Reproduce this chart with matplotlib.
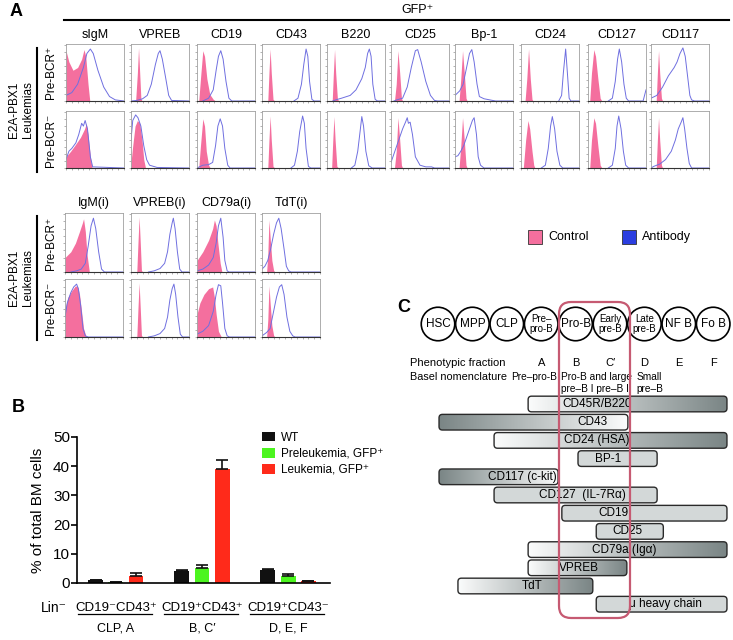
import numpy as np
import matplotlib.pyplot as plt
from matplotlib.patches import FancyBboxPatch, Ellipse, Rectangle
from matplotlib.colors import LinearSegmentedColormap
from matplotlib.ticker import MultipleLocator

plt.rcParams['font.family'] = ['Liberation Sans', 'DejaVu Sans']

# ---------------- data ----------------
markers_top = ['sIgM', 'VPREB', 'CD19', 'CD43', 'B220', 'CD25', 'Bp-1', 'CD24', 'CD127', 'CD117']
markers_bot = ['IgM(i)', 'VPREB(i)', 'CD79a(i)', 'TdT(i)']

# histogram outlines, (fluorescence fraction, relative count)
ctrl_pos = {
    'sIgM': [(0, 0.9), (0.05, 0.7), (0.12, 0.55), (0.2, 0.6), (0.27, 0.75), (0.31, 0.92), (0.34, 0.8), (0.38, 0.3), (0.41, 0)],
    'VPREB': [(0.08, 0), (0.11, 0.5), (0.13, 0.95), (0.15, 0.5), (0.17, 0.05), (0.19, 0)],
    'CD19': [(0.03, 0), (0.06, 0.4), (0.1, 0.9), (0.13, 0.8), (0.17, 0.4), (0.22, 0.12), (0.28, 0.03), (0.32, 0)],
    'CD43': [(0.1, 0), (0.12, 0.5), (0.14, 0.93), (0.16, 0.5), (0.19, 0.03), (0.22, 0)],
    'B220': [(0.09, 0), (0.11, 0.5), (0.13, 0.92), (0.15, 0.5), (0.18, 0.03), (0.21, 0)],
    'CD25': [(0.06, 0), (0.09, 0.3), (0.12, 0.9), (0.15, 0.5), (0.18, 0.05), (0.2, 0)],
    'Bp-1': [(0.07, 0), (0.1, 0.4), (0.13, 0.9), (0.16, 0.5), (0.19, 0.05), (0.21, 0)],
    'CD24': [(0.07, 0), (0.1, 0.4), (0.13, 0.93), (0.16, 0.4), (0.19, 0.03), (0.21, 0)],
    'CD127': [(0.03, 0), (0.06, 0.5), (0.1, 0.92), (0.13, 0.8), (0.17, 0.4), (0.21, 0.05), (0.24, 0)],
    'CD117': [(0.09, 0), (0.11, 0.5), (0.13, 0.9), (0.15, 0.5), (0.18, 0.05), (0.2, 0)],
    'IgM(i)': [(0, 0.25), (0.1, 0.35), (0.18, 0.5), (0.25, 0.7), (0.3, 0.85), (0.32, 0.92), (0.35, 0.7), (0.38, 0.3), (0.42, 0)],
    'VPREB(i)': [(0.1, 0), (0.12, 0.5), (0.14, 0.95), (0.16, 0.5), (0.18, 0.03), (0.2, 0)],
    'CD79a(i)': [(0, 0.2), (0.1, 0.35), (0.2, 0.55), (0.27, 0.75), (0.3, 0.9), (0.33, 0.8), (0.36, 0.5), (0.4, 0.15), (0.43, 0)],
    'TdT(i)': [(0.08, 0), (0.1, 0.3), (0.12, 0.9), (0.14, 0.6), (0.17, 0.2), (0.2, 0.03), (0.22, 0)],
}
ab_pos = {
    'sIgM': [(0, 0.1), (0.1, 0.15), (0.2, 0.3), (0.3, 0.6), (0.36, 0.85), (0.42, 0.93), (0.47, 0.85), (0.55, 0.55), (0.65, 0.25), (0.75, 0.08), (0.85, 0.02), (1, 0)],
    'VPREB': [(0, 0), (0.1, 0.01), (0.2, 0.04), (0.28, 0.1), (0.35, 0.3), (0.42, 0.65), (0.47, 0.85), (0.5, 0.9), (0.54, 0.75), (0.6, 0.4), (0.65, 0.1), (0.7, 0.01), (1, 0)],
    'CD19': [(0.1, 0), (0.2, 0.05), (0.28, 0.2), (0.33, 0.55), (0.37, 0.8), (0.41, 0.9), (0.45, 0.75), (0.5, 0.35), (0.55, 0.05), (0.6, 0), (1, 0)],
    'CD43': [(0.55, 0), (0.62, 0.05), (0.68, 0.3), (0.72, 0.65), (0.76, 0.93), (0.79, 0.8), (0.82, 0.35), (0.86, 0.03), (0.9, 0), (1, 0)],
    'B220': [(0.1, 0), (0.15, 0.02), (0.25, 0.05), (0.4, 0.1), (0.5, 0.2), (0.6, 0.4), (0.66, 0.6), (0.7, 0.85), (0.73, 0.93), (0.76, 0.8), (0.79, 0.3), (0.83, 0.03), (0.87, 0), (1, 0)],
    'CD25': [(0.05, 0), (0.1, 0.02), (0.2, 0.05), (0.28, 0.25), (0.35, 0.6), (0.42, 0.9), (0.46, 0.92), (0.52, 0.7), (0.6, 0.35), (0.68, 0.1), (0.75, 0.01), (0.8, 0), (1, 0)],
    'Bp-1': [(0, 0.1), (0.08, 0.18), (0.14, 0.3), (0.2, 0.6), (0.25, 0.85), (0.29, 0.92), (0.33, 0.7), (0.38, 0.3), (0.42, 0.08), (0.5, 0.04), (0.6, 0.02), (0.7, 0), (1, 0)],
    'CD24': [(0.65, 0), (0.7, 0.1), (0.73, 0.5), (0.77, 0.93), (0.8, 0.5), (0.83, 0.05), (0.86, 0), (1, 0)],
    'CD127': [(0.35, 0), (0.42, 0.05), (0.47, 0.35), (0.51, 0.75), (0.54, 0.93), (0.58, 0.7), (0.62, 0.3), (0.66, 0.05), (0.7, 0), (0.95, 0), (1, 0.2)],
    'CD117': [(0, 0.05), (0.1, 0.1), (0.2, 0.25), (0.3, 0.45), (0.4, 0.6), (0.45, 0.7), (0.5, 0.85), (0.55, 0.95), (0.59, 0.8), (0.63, 0.45), (0.67, 0.1), (0.7, 0.02), (0.75, 0), (1, 0)],
    'IgM(i)': [(0.1, 0), (0.2, 0.02), (0.28, 0.05), (0.35, 0.15), (0.4, 0.45), (0.45, 0.8), (0.49, 0.93), (0.53, 0.75), (0.58, 0.35), (0.63, 0.05), (0.68, 0), (1, 0)],
    'VPREB(i)': [(0.3, 0), (0.4, 0.02), (0.5, 0.06), (0.58, 0.15), (0.63, 0.35), (0.67, 0.65), (0.71, 0.85), (0.73, 0.93), (0.76, 0.75), (0.8, 0.35), (0.84, 0.05), (0.88, 0), (1, 0)],
    'CD79a(i)': [(0, 0.02), (0.1, 0.05), (0.2, 0.12), (0.28, 0.25), (0.33, 0.5), (0.37, 0.8), (0.41, 0.93), (0.45, 0.6), (0.48, 0.2), (0.52, 0.02), (0.55, 0), (1, 0)],
    'TdT(i)': [(0, 0.05), (0.05, 0.1), (0.1, 0.2), (0.15, 0.4), (0.2, 0.65), (0.25, 0.85), (0.29, 0.93), (0.33, 0.75), (0.38, 0.4), (0.42, 0.1), (0.46, 0.02), (0.5, 0), (1, 0)],
}
ctrl_neg = {
    'sIgM': [(0, 0.2), (0.08, 0.3), (0.15, 0.4), (0.25, 0.55), (0.32, 0.7), (0.35, 0.8), (0.38, 0.6), (0.42, 0.2), (0.45, 0)],
    'VPREB': [(0, 0.1), (0.03, 0.4), (0.07, 0.75), (0.11, 0.85), (0.15, 0.8), (0.19, 0.5), (0.22, 0.15), (0.25, 0)],
    'CD19': [(0.03, 0), (0.06, 0.4), (0.1, 0.88), (0.13, 0.75), (0.16, 0.3), (0.2, 0.05), (0.23, 0)],
    'CD43': [(0.1, 0), (0.12, 0.5), (0.14, 0.93), (0.16, 0.5), (0.19, 0.03), (0.22, 0)],
    'B220': [(0.08, 0), (0.1, 0.5), (0.12, 0.92), (0.14, 0.5), (0.17, 0.03), (0.2, 0)],
    'CD25': [(0.06, 0), (0.09, 0.3), (0.12, 0.9), (0.15, 0.5), (0.18, 0.05), (0.2, 0)],
    'Bp-1': [(0.07, 0), (0.1, 0.4), (0.13, 0.9), (0.16, 0.5), (0.19, 0.05), (0.21, 0)],
    'CD24': [(0.04, 0), (0.08, 0.5), (0.12, 0.85), (0.15, 0.7), (0.19, 0.3), (0.22, 0.05), (0.24, 0)],
    'CD127': [(0.03, 0), (0.06, 0.5), (0.1, 0.9), (0.13, 0.8), (0.17, 0.4), (0.21, 0.05), (0.24, 0)],
    'CD117': [(0.09, 0), (0.11, 0.5), (0.13, 0.9), (0.15, 0.5), (0.18, 0.05), (0.2, 0)],
    'IgM(i)': [(0, 0.5), (0.05, 0.7), (0.12, 0.82), (0.18, 0.9), (0.22, 0.88), (0.25, 0.75), (0.28, 0.5), (0.32, 0.15), (0.36, 0.02), (0.4, 0)],
    'VPREB(i)': [(0.1, 0), (0.12, 0.5), (0.14, 0.95), (0.16, 0.5), (0.18, 0.03), (0.2, 0)],
    'CD79a(i)': [(0, 0.4), (0.05, 0.6), (0.12, 0.75), (0.2, 0.85), (0.27, 0.88), (0.3, 0.7), (0.33, 0.4), (0.37, 0.1), (0.42, 0)],
    'TdT(i)': [(0.08, 0), (0.1, 0.3), (0.12, 0.9), (0.14, 0.6), (0.17, 0.2), (0.2, 0.03), (0.22, 0)],
}
ab_neg = {
    'sIgM': [(0, 0.15), (0.05, 0.3), (0.1, 0.35), (0.17, 0.45), (0.22, 0.6), (0.27, 0.8), (0.3, 0.75), (0.33, 0.85), (0.37, 0.7), (0.42, 0.2), (0.46, 0.02), (1, 0)],
    'VPREB': [(0, 0.5), (0.03, 0.85), (0.08, 0.95), (0.12, 0.9), (0.17, 0.75), (0.22, 0.4), (0.27, 0.15), (0.32, 0.05), (0.45, 0.01), (1, 0)],
    'CD19': [(0, 0), (0.1, 0.05), (0.2, 0.06), (0.27, 0.1), (0.32, 0.4), (0.36, 0.75), (0.4, 0.88), (0.44, 0.75), (0.48, 0.35), (0.53, 0.05), (0.57, 0), (1, 0)],
    'CD43': [(0.5, 0), (0.56, 0.05), (0.61, 0.3), (0.65, 0.65), (0.7, 0.93), (0.73, 0.8), (0.76, 0.35), (0.8, 0.03), (0.84, 0), (1, 0)],
    'B220': [(0.42, 0), (0.48, 0.05), (0.53, 0.3), (0.57, 0.65), (0.6, 0.92), (0.63, 0.75), (0.67, 0.3), (0.72, 0.04), (0.78, 0), (1, 0)],
    'CD25': [(0, 0.1), (0.05, 0.25), (0.1, 0.4), (0.15, 0.55), (0.2, 0.7), (0.25, 0.82), (0.28, 0.9), (0.3, 0.8), (0.33, 0.82), (0.37, 0.6), (0.42, 0.2), (0.5, 0.05), (0.6, 0.02), (0.7, 0.02), (0.75, 0), (1, 0)],
    'Bp-1': [(0, 0.2), (0.05, 0.22), (0.1, 0.3), (0.15, 0.4), (0.2, 0.55), (0.25, 0.7), (0.3, 0.85), (0.33, 0.9), (0.37, 0.6), (0.4, 0.2), (0.44, 0.05), (0.5, 0), (1, 0)],
    'CD24': [(0.35, 0), (0.42, 0.05), (0.47, 0.35), (0.51, 0.75), (0.54, 0.92), (0.58, 0.7), (0.62, 0.3), (0.67, 0.05), (0.72, 0), (1, 0)],
    'CD127': [(0.35, 0), (0.42, 0.05), (0.47, 0.35), (0.5, 0.75), (0.53, 0.93), (0.57, 0.7), (0.61, 0.3), (0.65, 0.05), (0.7, 0), (1, 0)],
    'CD117': [(0, 0), (0.05, 0.03), (0.15, 0.07), (0.25, 0.15), (0.35, 0.3), (0.42, 0.5), (0.47, 0.7), (0.52, 0.82), (0.55, 0.9), (0.58, 0.7), (0.62, 0.35), (0.66, 0.08), (0.7, 0), (1, 0)],
    'IgM(i)': [(0, 0.35), (0.04, 0.6), (0.1, 0.78), (0.15, 0.88), (0.2, 0.93), (0.23, 0.85), (0.27, 0.55), (0.31, 0.15), (0.35, 0.02), (0.4, 0), (1, 0)],
    'VPREB(i)': [(0.3, 0), (0.4, 0.02), (0.5, 0.06), (0.58, 0.15), (0.63, 0.35), (0.67, 0.65), (0.71, 0.85), (0.74, 0.93), (0.77, 0.75), (0.81, 0.35), (0.85, 0.05), (0.89, 0), (1, 0)],
    'CD79a(i)': [(0, 0.05), (0.1, 0.1), (0.2, 0.2), (0.28, 0.45), (0.33, 0.75), (0.37, 0.92), (0.41, 0.9), (0.44, 0.6), (0.48, 0.15), (0.52, 0.02), (0.56, 0), (1, 0)],
    'TdT(i)': [(0, 0.02), (0.08, 0.08), (0.14, 0.15), (0.2, 0.45), (0.25, 0.7), (0.3, 0.88), (0.34, 0.92), (0.38, 0.75), (0.43, 0.35), (0.48, 0.1), (0.53, 0.02), (0.57, 0), (1, 0)],
}

# panel B
groups = ['CD19\u207bCD43\u207a', 'CD19\u207aCD43\u207a', 'CD19\u207aCD43\u207b']
group_sub = ['CLP, A', 'B, C\u2032', 'D, E, F']
series = ['WT', 'Preleukemia, GFP\u207a', 'Leukemia, GFP\u207a']
wt = [1.0, 4.1, 4.4]
wt_err = [0.1, 0.4, 0.4]
preleuk = [0.3, 5.1, 2.4]
preleuk_err = [0.1, 0.9, 0.8]
leuk = [2.4, 39.2, 0.6]
leuk_err = [1.1, 2.9, 0.2]

# panel C
stages = ['HSC', 'MPP', 'CLP', 'Pre\u2013\npro-B', 'Pro-B', 'Early\npre-B', 'Late\npre-B', 'NF B', 'Fo B']
fractions = ['', '', '', 'A', 'B', 'C\u2032', 'D', 'E', 'F']
markers_c = ['CD45R/B220', 'CD43', 'CD24 (HSA)', 'BP-1', 'CD117 (c-kit)', 'CD127  (IL-7R\u03b1)',
             'CD19', 'CD25', 'CD79a (Ig\u03b1)', 'VPREB', 'TdT', '\u03bc heavy chain']
bar_start = [2.62, 0.03, 1.63, 4.07, 0.03, 1.63, 3.6, 4.6, 2.62, 2.62, 0.58, 4.6]
bar_end = [8.4, 5.52, 8.4, 6.37, 3.49, 6.37, 8.4, 6.55, 8.4, 5.49, 4.5, 8.4]
bar_shade = ['up', 'down', 'up', 'flat', 'down', 'flat', 'flat', 'flat', 'up', 'up', 'up', 'flat']

# ---------------- figure ----------------
W, H = 733, 640
fig = plt.figure(figsize=(W / 100, H / 100), dpi=100)


def rect(x, y, w, h):
    return [x / W, 1 - (y + h) / H, w / W, h / H]


def ftext(x, y, s, **kw):
    fig.text(x / W, 1 - y / H, s, **kw)


PINK = '#f46f9e'
BLUE = '#6f6fe0'


def hist_panel(x, y, w, h, ctrl, ab):
    ax = fig.add_axes(rect(x, y, w, h))
    cx, cy = zip(*ctrl)
    ax.fill_between(cx, cy, color=PINK, lw=0)
    bx, by = zip(*ab)
    ax.plot(bx, by, color=BLUE, lw=0.7)
    ax.set_xlim(0, 1)
    ax.set_ylim(0, 1.02)
    for s in ax.spines.values():
        s.set_color('#a0a0a0')
        s.set_linewidth(0.6)
    ax.spines['bottom'].set_color('#333333')
    ax.spines['bottom'].set_linewidth(0.8)
    ax.xaxis.set_major_locator(MultipleLocator(0.1))
    ax.yaxis.set_major_locator(MultipleLocator(0.125))
    ax.tick_params(length=1.2, width=0.4, colors='#777777', labelbottom=False, labelleft=False)
    return ax


# ---- panel A ----
ftext(10, 12, 'A', fontsize=13, fontweight='bold', va='center')
ftext(417, 10, 'GFP\u207a', fontsize=9, ha='center', va='center')
fig.add_artist(plt.Line2D([64 / W, 729 / W], [1 - 20 / H, 1 - 20 / H], color='black', lw=1.5))

top_x = [66, 131, 197, 262, 327, 391, 455, 521, 588, 651]
for m, x in zip(markers_top, top_x):
    ftext(x + 29, 35, m, fontsize=9, ha='center', va='center')
    hist_panel(x, 44, 58, 57, ctrl_pos[m], ab_pos[m])
    hist_panel(x, 111, 58, 57, ctrl_neg[m], ab_neg[m])

bot_x = [65, 131, 197, 262]
for m, x in zip(markers_bot, bot_x):
    ftext(x + 29, 203, m, fontsize=9, ha='center', va='center')
    hist_panel(x, 213, 58, 59, ctrl_pos[m], ab_pos[m])
    hist_panel(x, 279, 58, 58, ctrl_neg[m], ab_neg[m])

for (y0, y1, r1, r2) in [(48, 172, 72, 140), (216, 340, 243, 308)]:
    fig.add_artist(plt.Line2D([37 / W, 37 / W], [1 - y0 / H, 1 - y1 / H], color='black', lw=1.5))
    ftext(21, (y0 + y1) / 2, 'E2A-PBX1\nLeukemias', fontsize=8.5, rotation=90, ha='center', va='center',
          linespacing=1.15)
    ftext(51, r1, 'Pre-BCR\u207a', fontsize=8.5, rotation=90, ha='center', va='center')
    ftext(51, r2, 'Pre-BCR\u207b', fontsize=8.5, rotation=90, ha='center', va='center')

# legend of panel A
fig.add_artist(Rectangle((528 / W, 1 - 244 / H), 14 / W, 14 / H, facecolor=PINK, edgecolor='#333333', lw=0.6))
ftext(548, 237, 'Control', fontsize=9, va='center')
fig.add_artist(Rectangle((622 / W, 1 - 244 / H), 14 / W, 14 / H, facecolor='#2b3ee0', edgecolor='#333333', lw=0.6))
ftext(642, 237, 'Antibody', fontsize=9, va='center')

# ---- panel B ----
ftext(12, 408, 'B', fontsize=13, fontweight='bold', va='center')
axb = fig.add_axes(rect(77, 437, 253, 146))
pos = np.arange(len(groups))
bw = 0.174
off = 0.233
colors = ['#111111', '#4cf51f', '#ff2a1a']
for i, (vals, err) in enumerate([(wt, wt_err), (preleuk, preleuk_err), (leuk, leuk_err)]):
    axb.bar(pos + (i - 1) * off, vals, bw, color=colors[i], label=series[i],
            yerr=[np.zeros(len(err)), err], capsize=4,
            error_kw=dict(ecolor='#111111', elinewidth=1.2, capthick=1.2))
axb.set_xlim(-0.453, 2.488)
axb.set_ylim(0, 50)
axb.set_yticks(range(0, 51, 10))
axb.set_xticks([])
axb.spines['top'].set_visible(False)
axb.spines['right'].set_visible(False)
axb.spines['left'].set_linewidth(1.2)
axb.spines['bottom'].set_linewidth(1.2)
axb.tick_params(axis='y', labelsize=11, length=4, width=1.2, pad=1)
axb.set_ylabel('% of total BM cells', fontsize=11, labelpad=6)
axb.legend(loc='upper left', bbox_to_anchor=(0.69, 1.11), frameon=False, fontsize=8.5,
           handlelength=1.1, handleheight=0.9, handletextpad=0.5, labelspacing=0.35)
tr = axb.get_xaxis_transform()
axb.text(-0.72, -0.17, 'Lin\u207b', transform=tr, fontsize=10, ha='center', va='center')
for i, (g, s) in enumerate(zip(groups, group_sub)):
    axb.text(pos[i], -0.17, g, transform=tr, fontsize=9.5, ha='center', va='center')
    axb.plot([pos[i] - 0.44, pos[i] + 0.42], [-0.213, -0.213], transform=tr, color='black',
             lw=0.9, clip_on=False)
    axb.text(pos[i], -0.31, s, transform=tr, fontsize=9, ha='center', va='center')

# ---- panel C ----
ftext(397, 307, 'C', fontsize=13, fontweight='bold', va='center')
sx, sy = 34.4, 18.2   # px per unit in x (stage) and y (row)
axc = fig.add_axes(rect(395, 295, 338, 330))
axc.axis('off')
asp = sx / sy

circ_y = (324 - 404) / sy
for i, s in enumerate(stages):
    axc.add_patch(Ellipse((i, circ_y), 33.5 / sx, 33.5 / sy, facecolor='white', edgecolor='black', lw=1.2))
    fs = 7 if '\n' in s else 8.5
    axc.text(i, circ_y, s, fontsize=fs, ha='center', va='center', linespacing=0.95)

row_pf = (363 - 404) / sy
axc.text(-0.81, row_pf, 'Phenotypic fraction', fontsize=8, ha='left', va='center')
for i, f in enumerate(fractions):
    axc.text(i, row_pf, f, fontsize=8, ha='center', va='center')
row_b1 = (377 - 404) / sy
row_b2 = (389 - 404) / sy
axc.text(-0.81, row_b1, 'Basel nomenclature', fontsize=7.8, ha='left', va='center')
axc.text(2.8, row_b1, 'Pre\u2013pro-B', fontsize=7.3, ha='center', va='center')
axc.text(4.6, row_b1, 'Pro-B and large', fontsize=7.3, ha='center', va='center')
axc.text(4.6, row_b2, 'pre\u2013B I pre\u2013B II', fontsize=7.3, ha='center', va='center')
axc.text(5.78, row_b1, 'Small', fontsize=7.3, ha='left', va='center')
axc.text(5.78, row_b2, 'pre\u2013B', fontsize=7.3, ha='left', va='center')

cmap = LinearSegmentedColormap.from_list('grad', ['#fbfcfc', '#7a8585'])
grad = np.linspace(0, 1, 256).reshape(1, -1)
label_x = [4.62, 4.5, 4.62, 4.94, 2.44, 4.2, 5.09, 5.52, 5.41, 4.1, 2.73, 6.6]
bh = 0.86
for r, (name, x0, x1, shade) in enumerate(zip(markers_c, bar_start, bar_end, bar_shade)):
    box = FancyBboxPatch((x0, r - bh / 2), x1 - x0, bh, boxstyle='round,pad=0,rounding_size=0.1',
                         mutation_aspect=asp, facecolor='#d3d8d8' if shade == 'flat' else 'none',
                         edgecolor='#2a2a2a', lw=1.0, zorder=3)
    axc.add_patch(box)
    if shade != 'flat':
        img = grad if shade == 'up' else grad[:, ::-1]
        im = axc.imshow(img, cmap=cmap, extent=(x0, x1, r + bh / 2, r - bh / 2), aspect='auto', zorder=2)
        im.set_clip_path(box)
    axc.text(label_x[r], r, name, fontsize=8.5, ha='center', va='center', zorder=5)

ry0 = (302 - 404) / sy
ry1 = (618 - 404) / sy
rx0 = (559 - 438) / sx
rx1 = (630 - 438) / sx
axc.add_patch(FancyBboxPatch((rx0, ry0), rx1 - rx0, ry1 - ry0, boxstyle='round,pad=0,rounding_size=0.35',
                             mutation_aspect=asp, facecolor='none', edgecolor='#c65a72', lw=1.6, zorder=6))
axc.set_xlim((395 - 438) / sx, (733 - 438) / sx)
axc.set_ylim((625 - 404) / sy, (295 - 404) / sy)

fig.savefig('out.png', dpi=100)
